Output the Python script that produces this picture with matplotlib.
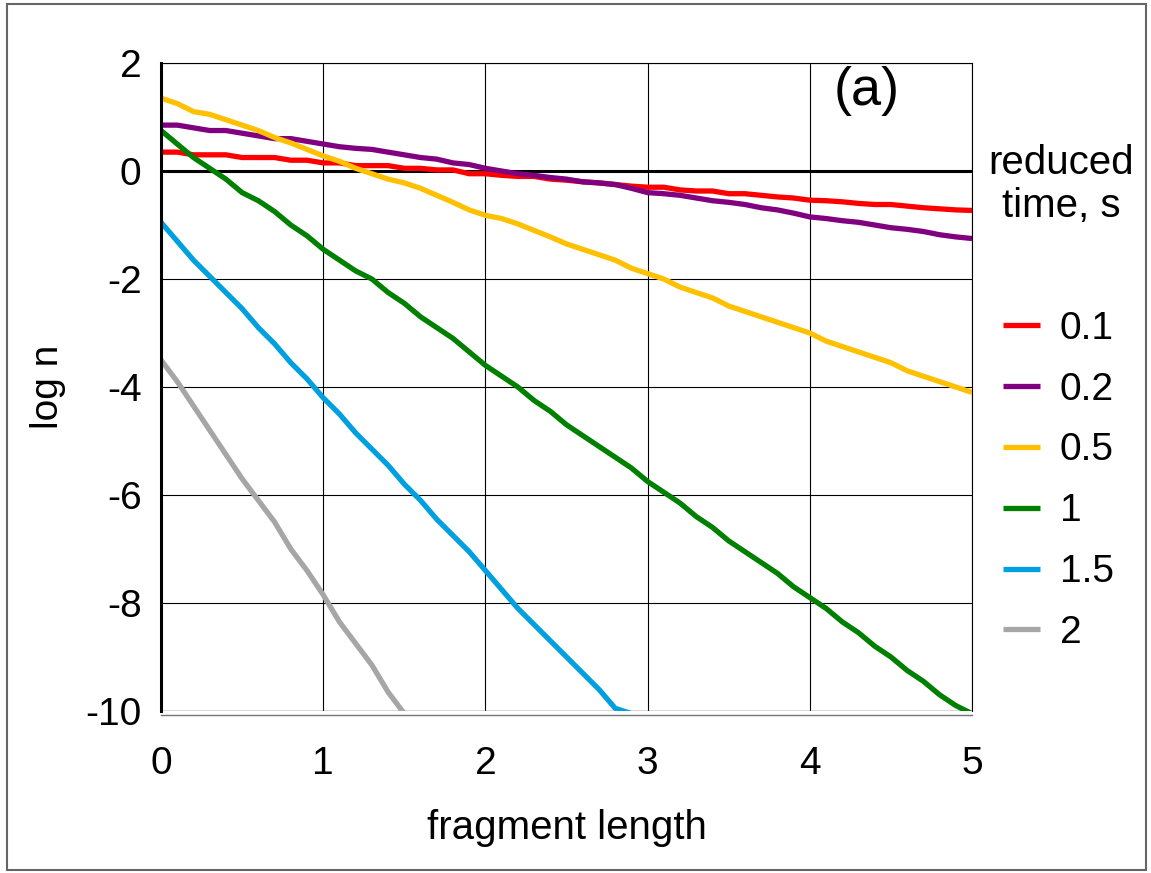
import matplotlib
matplotlib.use("Agg")
import matplotlib.pyplot as plt
from matplotlib.patches import Rectangle

plt.rcParams["font.family"] = ["Liberation Sans", "DejaVu Sans"]
plt.rcParams["axes.unicode_minus"] = False

# fragment length grid shared by all curves (step 0.1)
x = [round(0.1 * i, 1) for i in range(51)]

times = ["0.1", "0.2", "0.5", "1", "1.5", "2"]
colors = ["#FF0000", "#800080", "#FFC000", "#008000", "#00A0E0", "#A6A6A6"]

logn_01 = [0.35, 0.35, 0.30, 0.30, 0.30, 0.25, 0.25, 0.25, 0.20, 0.20,
           0.15, 0.15, 0.10, 0.10, 0.10, 0.05, 0.05, 0.02, 0.02, -0.05,
           -0.05, -0.08, -0.10, -0.10, -0.15, -0.17, -0.20, -0.22, -0.25, -0.28,
           -0.30, -0.30, -0.35, -0.37, -0.37, -0.42, -0.42, -0.45, -0.48, -0.50,
           -0.54, -0.55, -0.57, -0.60, -0.62, -0.62, -0.65, -0.68, -0.70, -0.72,
           -0.73]
logn_02 = [0.85, 0.85, 0.80, 0.75, 0.75, 0.70, 0.65, 0.60, 0.60, 0.55,
           0.50, 0.45, 0.42, 0.40, 0.35, 0.30, 0.25, 0.22, 0.15, 0.12,
           0.05, 0.00, -0.05, -0.08, -0.12, -0.15, -0.20, -0.22, -0.25, -0.32,
           -0.40, -0.42, -0.45, -0.50, -0.55, -0.58, -0.62, -0.68, -0.72, -0.78,
           -0.85, -0.88, -0.92, -0.95, -1.00, -1.05, -1.08, -1.12, -1.18, -1.22,
           -1.25]
logn_05 = [1.35, 1.25, 1.10, 1.05, 0.95, 0.85, 0.75, 0.62, 0.52, 0.40,
           0.28, 0.18, 0.05, -0.05, -0.15, -0.22, -0.32, -0.45, -0.58, -0.72,
           -0.82, -0.88, -0.98, -1.10, -1.22, -1.35, -1.45, -1.55, -1.65, -1.80,
           -1.90, -2.00, -2.15, -2.25, -2.35, -2.50, -2.60, -2.70, -2.80, -2.90,
           -3.00, -3.15, -3.25, -3.35, -3.45, -3.55, -3.70, -3.80, -3.90, -4.00,
           -4.10]
logn_1 = [0.75, 0.50, 0.25, 0.05, -0.15, -0.40, -0.55, -0.75, -1.00, -1.20,
          -1.45, -1.65, -1.85, -2.00, -2.25, -2.45, -2.70, -2.90, -3.10, -3.35,
          -3.60, -3.80, -4.00, -4.25, -4.45, -4.70, -4.90, -5.10, -5.30, -5.50,
          -5.75, -5.95, -6.15, -6.40, -6.60, -6.85, -7.05, -7.25, -7.45, -7.70,
          -7.90, -8.10, -8.35, -8.55, -8.80, -9.00, -9.25, -9.45, -9.70, -9.90,
          -10.05]
logn_15 = [-0.95, -1.30, -1.65, -1.95, -2.25, -2.55, -2.90, -3.20, -3.55, -3.85,
           -4.20, -4.50, -4.85, -5.15, -5.45, -5.80, -6.10, -6.45, -6.75, -7.05,
           -7.40, -7.75, -8.10, -8.40, -8.70, -9.00, -9.30, -9.60, -9.95, -10.05]
logn_2 = [-3.50, -3.90, -4.35, -4.80, -5.25, -5.70, -6.10, -6.50, -7.00, -7.40,
          -7.85, -8.35, -8.75, -9.15, -9.65, -10.05]

series = [logn_01, logn_02, logn_05, logn_1, logn_15, logn_2]

fig = plt.figure(figsize=(11.51, 8.73), dpi=100)
ax = fig.add_axes([0.1399, 0.1856, 0.7046, 0.7422])

for t, c, y in zip(times, colors, series):
    ax.plot(x[:len(y)], y, color=c, lw=3.8, label=t, solid_capstyle="butt")

ax.axhline(0, color="black", lw=2.2, zorder=1.5)
ax.axhline(-10, color="0.45", lw=1.0, zorder=1.5)

ax.set_xlim(0, 5)
ax.set_ylim(-10, 2)
ax.set_xticks(range(0, 6))
ax.set_yticks(range(-10, 3, 2))
ax.grid(True, color="black", lw=0.8)
ax.set_axisbelow(True)
ax.tick_params(length=0, labelsize=28)
ax.tick_params(axis="y", pad=14)
ax.tick_params(axis="x", pad=22)

ax.spines["left"].set_linewidth(2.2)
ax.spines["top"].set_linewidth(0.8)
ax.spines["right"].set_linewidth(0.8)
ax.spines["bottom"].set_color("0.45")
ax.spines["bottom"].set_linewidth(1.0)
ax.spines["bottom"].set_position(("outward", 3))

ax.set_xlabel("fragment length", fontsize=29, labelpad=20)
ax.set_ylabel("log n", fontsize=28, labelpad=14)

ax.text(0.87, 0.995, "(a)", transform=ax.transAxes, fontsize=39,
        ha="center", va="top")

fig.text(0.922, 0.835, "reduced\ntime, s", fontsize=29, ha="center",
         va="top", linespacing=1.15)
fig.legend(loc="upper left", bbox_to_anchor=(0.858, 0.662), frameon=False,
           fontsize=28, handlelength=0.95, handletextpad=0.5,
           labelspacing=0.64, borderaxespad=0)

fig.add_artist(Rectangle((0.006, 0.003), 0.99, 0.992, transform=fig.transFigure,
                         fill=False, edgecolor="0.4", lw=1.5))

fig.savefig("out.png", dpi=100)
